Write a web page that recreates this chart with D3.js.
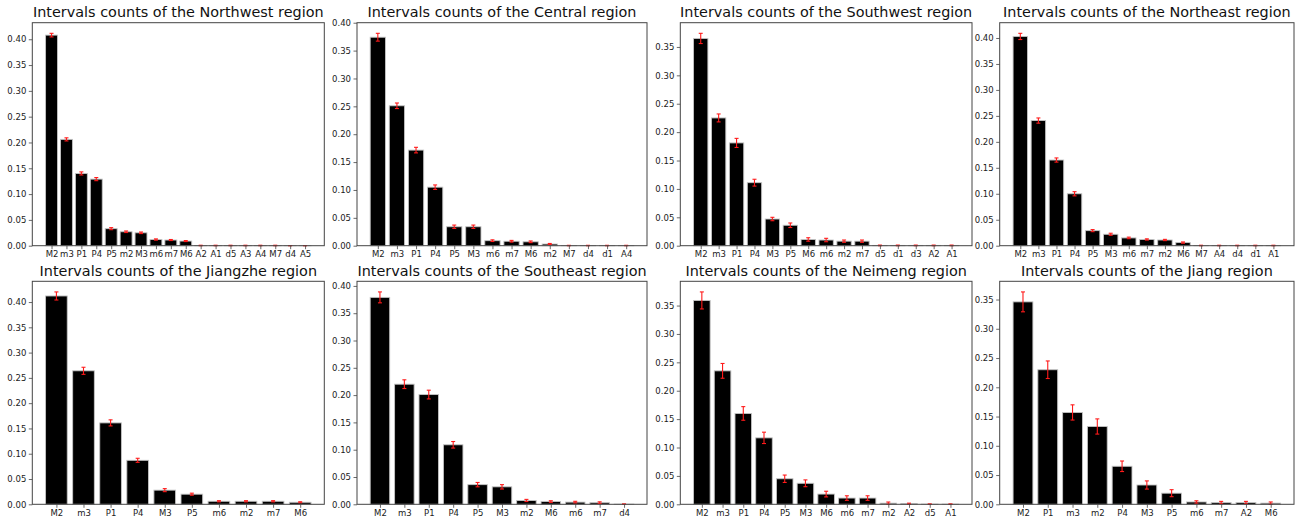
<!DOCTYPE html>
<html>
<head>
<meta charset="utf-8">
<script src="https://cdn.jsdelivr.net/npm/d3@7"></script>
<style>
  body { margin: 0; background: #fff; }
  svg { display: block; }
  text { font-family: "DejaVu Sans", sans-serif; }
</style>
</head>
<body>
<svg id="chart" width="1304" height="524"></svg>
<script>
// Interval frequencies (share of all intervals) with standard errors, per region
const nwLabels = ["M2","m3","P1","P4","P5","m2","M3","m6","m7","M6","A2","A1","d5","A3","A4","M7","d4","A5"];
const nwValues = [0.408,0.206,0.140,0.129,0.033,0.027,0.025,0.012,0.011,0.009,0.0004,0.0004,0.0004,0.0004,0.0004,0.0004,0.0001,0.0001];
const nwErrors = [0.0035,0.003,0.003,0.003,0.002,0.0015,0.0015,0.0012,0.001,0.001,0.0005,0.0005,0.0005,0.0005,0.0005,0.0005,0,0];

const ceLabels = ["M2","m3","P1","P4","P5","M3","m6","m7","M6","m2","M7","d4","d1","A4"];
const ceValues = [0.374,0.251,0.1715,0.105,0.034,0.034,0.009,0.008,0.007,0.003,0.0003,0.0003,0.0003,0.0003];
const ceErrors = [0.007,0.005,0.005,0.004,0.003,0.003,0.0015,0.0015,0.0015,0.001,0.0004,0.0004,0.0004,0.0004];

const swLabels = ["M2","m3","P1","P4","M3","P5","M6","m6","m2","m7","d5","d1","d3","A2","A1"];
const swValues = [0.365,0.225,0.181,0.111,0.047,0.036,0.011,0.010,0.008,0.008,0.0005,0.0005,0.0005,0.0005,0.0005];
const swErrors = [0.009,0.007,0.008,0.006,0.003,0.004,0.003,0.003,0.002,0.002,0.0006,0.0006,0.0006,0.0006,0.0006];

const neLabels = ["M2","m3","P1","P4","P5","M3","m6","m7","m2","M6","M7","A4","d4","d1","A1"];
const neValues = [0.403,0.241,0.165,0.100,0.029,0.022,0.015,0.012,0.011,0.006,0.0004,0.0004,0.0004,0.0004,0.0004];
const neErrors = [0.006,0.005,0.004,0.004,0.002,0.002,0.0015,0.0012,0.0012,0.0012,0.0005,0.0005,0.0005,0.0005,0.0005];

const jzLabels = ["M2","m3","P1","P4","M3","P5","m6","m2","m7","M6"];
const jzValues = [0.412,0.264,0.161,0.087,0.028,0.020,0.006,0.006,0.006,0.004];
const jzErrors = [0.008,0.007,0.006,0.004,0.003,0.002,0.0012,0.0012,0.0012,0.001];

const seLabels = ["M2","m3","P1","P4","P5","M3","m2","M6","m6","m7","d4"];
const seValues = [0.379,0.220,0.201,0.109,0.036,0.032,0.007,0.005,0.004,0.003,0.0003];
const seErrors = [0.010,0.008,0.008,0.006,0.004,0.004,0.002,0.0015,0.0015,0.0015,0.0004];

const nmLabels = ["M2","m3","P1","P4","P5","M3","M6","m6","m7","m2","A2","d5","A1"];
const nmValues = [0.359,0.235,0.160,0.117,0.045,0.037,0.018,0.011,0.011,0.002,0.001,0.0003,0.0003];
const nmErrors = [0.015,0.013,0.012,0.010,0.0065,0.006,0.005,0.004,0.004,0.002,0.001,0.0004,0.0004];

const jiLabels = ["M2","P1","m3","m2","P4","M3","P5","m6","m7","A2","M6"];
const jiValues = [0.346,0.230,0.157,0.133,0.065,0.033,0.019,0.004,0.003,0.003,0.002];
const jiErrors = [0.017,0.015,0.013,0.013,0.009,0.007,0.006,0.002,0.002,0.002,0.002];

const regionNames = ["Northwest","Central","Southwest","Northeast","Jiangzhe","Southeast","Neimeng","Jiang"];

const panels = [
  { labels: nwLabels, values: nwValues, errors: nwErrors },
  { labels: ceLabels, values: ceValues, errors: ceErrors },
  { labels: swLabels, values: swValues, errors: swErrors },
  { labels: neLabels, values: neValues, errors: neErrors },
  { labels: jzLabels, values: jzValues, errors: jzErrors },
  { labels: seLabels, values: seValues, errors: seErrors },
  { labels: nmLabels, values: nmValues, errors: nmErrors },
  { labels: jiLabels, values: jiValues, errors: jiErrors }
].map((p, i) => Object.assign(p, { title: `Intervals counts of the ${regionNames[i]} region` }));

// Grid geometry: 4 columns x 2 rows of axes boxes
const columns = [
  { x0: 32.3, x1: 324.3 },
  { x0: 357, x1: 647 },
  { x0: 680.3, x1: 972 },
  { x0: 999.7, x1: 1294 }
];
const rows = [
  { y0: 22.7, y1: 245.7, titleY: 16.7 },
  { y0: 281.3, y1: 504.3, titleY: 275.8 }
];

const svg = d3.select("#chart");

panels.forEach((p, i) => {
  const col = columns[i % 4];
  const row = rows[Math.floor(i / 4)];
  const n = p.labels.length;
  const span = n - 0.2;              // data extent of bars of width 0.8
  const pad = 0.05 * span;           // 5% axis margin
  const x = d3.scaleLinear()
    .domain([-0.4 - pad, n - 0.6 + pad])
    .range([col.x0, col.x1]);
  const top = d3.max(p.values, (v, j) => v + p.errors[j]);
  const yMax = top * 1.05;
  const y = d3.scaleLinear().domain([0, yMax]).range([row.y1, row.y0]);

  const g = svg.append("g");

  // Bars
  g.selectAll("rect.bar")
    .data(p.values)
    .join("rect")
    .attr("class", "bar")
    .attr("x", (v, j) => x(j - 0.4))
    .attr("width", (v, j) => x(j + 0.4) - x(j - 0.4))
    .attr("y", v => y(v))
    .attr("height", v => y(0) - y(v))
    .attr("fill", "#000")
    .attr("stroke", "#c4c4c4")
    .attr("stroke-width", 0.9);

  // Error bars with caps
  const eb = g.selectAll("g.err")
    .data(p.values.map((v, j) => ({ v, e: p.errors[j], j })))
    .join("g")
    .attr("class", "err")
    .attr("stroke", "#ff1a1a")
    .attr("stroke-width", 1.1);
  eb.append("line")
    .attr("x1", d => x(d.j)).attr("x2", d => x(d.j))
    .attr("y1", d => y(d.v - d.e)).attr("y2", d => y(d.v + d.e));
  eb.append("line")
    .attr("x1", d => x(d.j) - 2).attr("x2", d => x(d.j) + 2)
    .attr("y1", d => y(d.v + d.e)).attr("y2", d => y(d.v + d.e));
  eb.append("line")
    .attr("x1", d => x(d.j) - 2).attr("x2", d => x(d.j) + 2)
    .attr("y1", d => y(d.v - d.e)).attr("y2", d => y(d.v - d.e));

  // Y axis
  const yTicks = d3.range(0, Math.floor(yMax / 0.05 + 1e-6) + 1).map(k => k * 0.05);
  const ya = g.append("g")
    .attr("transform", `translate(${col.x0},0)`)
    .call(d3.axisLeft(y).tickValues(yTicks).tickFormat(d3.format(".2f")).tickSize(3.5).tickPadding(2.5));
  ya.select(".domain").remove();

  // X axis
  const xa = g.append("g")
    .attr("transform", `translate(0,${row.y1})`)
    .call(d3.axisBottom(x).tickValues(d3.range(n)).tickFormat(j => p.labels[j]).tickSize(3.5).tickPadding(2));
  xa.select(".domain").remove();

  [ya, xa].forEach(a => {
    a.selectAll(".tick line").attr("stroke", "#444").attr("stroke-width", 0.8);
    a.selectAll(".tick text")
      .attr("fill", "#1a1a1a")
      .style("font-size", "8.5px")
      .style("font-family", "'DejaVu Sans', sans-serif");
  });

  // Axes frame
  g.append("rect")
    .attr("x", col.x0).attr("y", row.y0)
    .attr("width", col.x1 - col.x0).attr("height", row.y1 - row.y0)
    .attr("fill", "none")
    .attr("stroke", "#444")
    .attr("stroke-width", 1);

  // Title
  g.append("text")
    .attr("x", (col.x0 + col.x1) / 2)
    .attr("y", row.titleY)
    .attr("text-anchor", "middle")
    .attr("fill", "#111")
    .style("font-size", "14.4px")
    .text(p.title);
});
</script>
</body>
</html>
